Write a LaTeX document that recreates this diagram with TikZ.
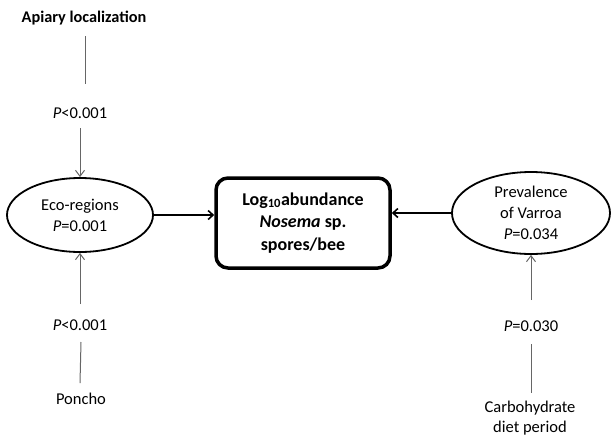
\documentclass[tikz,border=0pt]{standalone}
\usepackage{fontspec}
\setmainfont{Carlito}
\usetikzlibrary{arrows.meta,shapes.geometric}
\begin{document}
\begin{tikzpicture}[x=1pt,y=-1pt,
  lbl/.style={font=\fontsize{16.5}{20}\selectfont, inner sep=0pt, align=center},
  thin line/.style={draw=black!60, line width=1pt},
  thin arrow/.style={thin line, -{Straight Barb[length=6pt,width=9pt]}},
  thick arrow/.style={draw=black, line width=2.4pt, -{Straight Barb[length=5pt,width=9pt,line width=1.6pt]}},
  oval/.style={ellipse, draw=black, line width=1.8pt, align=center, inner sep=0pt, font=\fontsize{16.5}{21}\selectfont},
  mainbox/.style={draw=black, line width=3.5pt, rounded corners=12pt, align=center, font=\bfseries\fontsize{18}{22.5}\selectfont}
]
\useasboundingbox (0,0) rectangle (611,437);
\node[lbl, font=\bfseries\fontsize{16.3}{20}\selectfont] (apiary) at (84,18) {Apiary localization};
\node[lbl] (p1) at (80,113) {\textit{P}<0.001};
\node[oval, minimum width=146pt, minimum height=74pt] (eco) at (80,215) {Eco-regions\\\textit{P}=0.001};
\node[lbl] (p2) at (80,325) {\textit{P}<0.001};
\node[lbl] (poncho) at (81,399) {Poncho};
\node[mainbox, minimum width=174pt, minimum height=90pt] (main) at (303,223) {Log\textsubscript{10}abundance\\\textit{Nosema} sp.\\spores/bee};
\node[oval, minimum width=158pt, minimum height=82pt] (varroa) at (531,213) {Prevalence\\of Varroa\\\textit{P}=0.034};
\node[lbl] (p3) at (531,326) {\textit{P}=0.030};
\node[lbl] (carb) at (530,418) {Carbohydrate\\diet period};

\draw[thin line] (85,36) coordinate (a1) -- (85,84) coordinate (a2);
\draw[thin arrow] (80,128) coordinate (b1) -- (eco.north);
\draw[thin arrow] (80,304) coordinate (c1) -- (eco.south);
\draw[thin line] (81,342) coordinate (d1) -- (80,383) coordinate (d2);
\draw[thin arrow] (531,300) coordinate (e1) -- (varroa.south);
\draw[thin line] (531,344) coordinate (f1) -- (531,393) coordinate (f2);
\draw[thick arrow] (eco.east) -- (main.west |- eco.east);
\draw[thick arrow] (varroa.west) -- (main.east |- varroa.west);
\end{tikzpicture}
\end{document}
